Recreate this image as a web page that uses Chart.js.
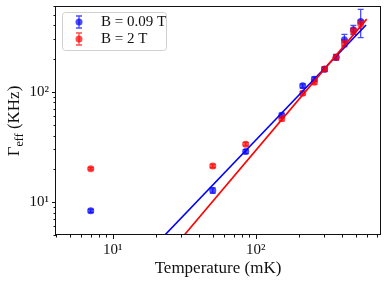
<!DOCTYPE html>
<html><head><meta charset="utf-8">
<script src="https://cdn.jsdelivr.net/npm/chart.js@4/dist/chart.umd.min.js"></script>
<style>html,body{margin:0;padding:0;background:#fff}#wrap{width:388px;height:285px}</style>
</head><body><div id="wrap"><canvas id="c" width="388" height="285"></canvas></div>
<script>
// ---- data ----
const temperatures = [7, 50, 85, 152, 213, 257, 303, 365, 417, 482, 542];
const gammaLowField = [8.3, 12.7, 28.6, 61, 113, 130, 160, 206, 296, 365, 435];
const gammaLowFieldErr = [0.3, 0.7, 1.2, 3, 5, 6, 8, 12, 35, 35, 125];
const gammaHighField = [20.0, 21.2, 33.4, 57, 97, 122, 161, 205, 276, 357, 411];
const gammaHighFieldErr = [0.5, 0.8, 1.2, 3, 4, 5, 7, 10, 20, 20, 35];
const fitLowFieldT = [23.2, 591];
const fitLowFieldG = [5.02, 403];
const fitHighFieldT = [31.7, 597];
const fitHighFieldG = [5.02, 456];
const seriesLabels = ['B = 0.09 T', 'B = 2 T'];
const xTickValues = [10, 100];
const xTickLabels = ['10\u00B9', '10\u00B2'];
const yTickValues = [10, 100];
const yTickLabels = ['10\u00B9', '10\u00B2'];
const xTitle = 'Temperature (mK)';
const yTitleMain = '\u0393';
const yTitleSub = 'eff';
const yTitleRest = ' (KHz)';

const X_MIN = 4, X_MAX = 740, Y_MIN = 5, Y_MAX = 600;
const SERIF = '"Liberation Serif", "DejaVu Serif", serif';
const BLUE = 'rgba(0,0,255,0.7)', RED = 'rgba(255,0,0,0.7)';

function minorTicks(min, max, majors) {
  const out = [];
  for (let d = 1; d <= 1000; d *= 10) {
    for (let m = 1; m <= 9; m++) {
      const v = m * d;
      if (v >= min && v <= max && !majors.includes(v)) out.push(v);
    }
  }
  return out;
}
const xMinor = minorTicks(X_MIN, X_MAX, xTickValues);
const yMinor = minorTicks(Y_MIN, Y_MAX, yTickValues);

function pts(xs, ys) { return xs.map((x, i) => ({x: x, y: ys[i]})); }

const errPlugin = {
  id: 'errbars',
  beforeDatasetsDraw(chart) {
    const ctx = chart.ctx, xs = chart.scales.x, ys = chart.scales.y, a = chart.chartArea;
    ctx.save();
    ctx.beginPath(); ctx.rect(a.left, a.top, a.right - a.left, a.bottom - a.top); ctx.clip();
    const sets = [[gammaLowField, gammaLowFieldErr, BLUE], [gammaHighField, gammaHighFieldErr, RED]];
    sets.forEach(([vals, errs, col]) => {
      ctx.strokeStyle = col; ctx.lineWidth = 1.3;
      temperatures.forEach((t, i) => {
        const px = xs.getPixelForValue(t);
        const y1 = ys.getPixelForValue(vals[i] + errs[i]);
        const y2 = ys.getPixelForValue(Math.max(vals[i] - errs[i], 1e-3));
        ctx.beginPath();
        ctx.moveTo(px, y1); ctx.lineTo(px, y2);
        ctx.moveTo(px - 3, y1); ctx.lineTo(px + 3, y1);
        ctx.moveTo(px - 3, y2); ctx.lineTo(px + 3, y2);
        ctx.stroke();
      });
    });
    ctx.restore();
  },
  afterDraw(chart) {
    const ctx = chart.ctx, xs = chart.scales.x, ys = chart.scales.y, a = chart.chartArea;
    ctx.save();
    // frame
    ctx.strokeStyle = '#111'; ctx.lineWidth = 1;
    ctx.strokeRect(Math.round(a.left) - 0.5, Math.round(a.top) + 0.5, Math.round(a.right - a.left) + 1, Math.round(a.bottom - a.top) - 1);
    // ticks
    ctx.beginPath();
    xTickValues.forEach(v => { const p = Math.round(xs.getPixelForValue(v)) + 0.5; ctx.moveTo(p, a.bottom); ctx.lineTo(p, a.bottom + 4); });
    xMinor.forEach(v => { const p = Math.round(xs.getPixelForValue(v)) + 0.5; ctx.moveTo(p, a.bottom); ctx.lineTo(p, a.bottom + 2.5); });
    yTickValues.forEach(v => { const p = Math.round(ys.getPixelForValue(v)) + 0.5; ctx.moveTo(a.left, p); ctx.lineTo(a.left - 4, p); });
    yMinor.forEach(v => { const p = Math.round(ys.getPixelForValue(v)) + 0.5; ctx.moveTo(a.left, p); ctx.lineTo(a.left - 2.5, p); });
    ctx.strokeStyle = '#111'; ctx.lineWidth = 1; ctx.stroke();
    // legend
    const lx = 62.5, ly = 12.5, lw = 104, lh = 38;
    ctx.beginPath(); ctx.roundRect(lx, ly, lw, lh, 3);
    ctx.fillStyle = 'rgba(255,255,255,0.8)'; ctx.fill();
    ctx.strokeStyle = '#d0d0d0'; ctx.lineWidth = 1; ctx.stroke();
    [[BLUE, 22], [RED, 39]].forEach(([col, cy], k) => {
      const cx = 79;
      ctx.strokeStyle = col; ctx.lineWidth = 1.3;
      ctx.beginPath();
      ctx.moveTo(cx, cy - 6); ctx.lineTo(cx, cy + 6);
      ctx.moveTo(cx - 3, cy - 6); ctx.lineTo(cx + 3, cy - 6);
      ctx.moveTo(cx - 3, cy + 6); ctx.lineTo(cx + 3, cy + 6);
      ctx.stroke();
      ctx.fillStyle = col; ctx.beginPath(); ctx.arc(cx, cy, 3.5, 0, Math.PI * 2); ctx.fill();
      ctx.fillStyle = '#111'; ctx.font = '15px ' + SERIF; ctx.textBaseline = 'middle'; ctx.textAlign = 'left';
      ctx.fillText(seriesLabels[k], 101, cy + 0.5);
    });
    // y title with subscript
    ctx.translate(19, 121); ctx.rotate(-Math.PI / 2);
    ctx.fillStyle = '#111'; ctx.textBaseline = 'alphabetic'; ctx.textAlign = 'left';
    ctx.font = '17px ' + SERIF; const w1 = ctx.measureText(yTitleMain).width, w3 = ctx.measureText(yTitleRest).width;
    ctx.font = '12px ' + SERIF; const w2 = ctx.measureText(yTitleSub).width;
    let x0 = -(w1 + w2 + w3) / 2;
    ctx.font = '17px ' + SERIF; ctx.fillText(yTitleMain, x0, 0);
    ctx.font = '12px ' + SERIF; ctx.fillText(yTitleSub, x0 + w1, 4);
    ctx.font = '17px ' + SERIF; ctx.fillText(yTitleRest, x0 + w1 + w2, 0);
    ctx.restore();
  }
};

function tickCb(values, labels) {
  return function (value) { const i = values.indexOf(value); return i >= 0 ? labels[i] : ''; };
}

new Chart(document.getElementById('c'), {
  type: 'scatter',
  data: {
    datasets: [
      { label: 'fit ' + seriesLabels[1], data: pts(fitHighFieldT, fitHighFieldG), showLine: true, borderColor: '#ff0000', borderWidth: 1.6, pointRadius: 0, order: 0 },
      { label: 'fit ' + seriesLabels[0], data: pts(fitLowFieldT, fitLowFieldG), showLine: true, borderColor: '#0000ff', borderWidth: 1.6, pointRadius: 0, order: 1 },
      { label: seriesLabels[1], data: pts(temperatures, gammaHighField), backgroundColor: RED, borderWidth: 0, pointRadius: 3.5, order: 2 },
      { label: seriesLabels[0], data: pts(temperatures, gammaLowField), backgroundColor: BLUE, borderWidth: 0, pointRadius: 3.5, order: 3 }
    ]
  },
  options: {
    responsive: false, animation: false, devicePixelRatio: 1,
    layout: { padding: { left: 0, top: 6, right: 8, bottom: 0 } },
    plugins: { legend: { display: false }, tooltip: { enabled: false } },
    scales: {
      x: {
        type: 'logarithmic', min: X_MIN, max: X_MAX,
        grid: { display: false, drawTicks: false }, border: { display: false },
        afterBuildTicks: s => { s.ticks = xTickValues.concat(xMinor).sort((a, b) => a - b).map(v => ({value: v})); },
        afterFit: s => { s.height = 50; s.paddingLeft = 0; s.paddingRight = 0; },
        ticks: { autoSkip: false, maxRotation: 0, minRotation: 0, padding: 6, color: '#111', font: { family: SERIF, size: 15 }, callback: tickCb(xTickValues, xTickLabels) },
        title: { display: true, text: xTitle, color: '#111', font: { family: SERIF, size: 17 }, padding: { top: 0, bottom: 6 } }
      },
      y: {
        type: 'logarithmic', min: Y_MIN, max: Y_MAX,
        grid: { display: false, drawTicks: false }, border: { display: false },
        afterBuildTicks: s => { s.ticks = yTickValues.concat(yMinor).sort((a, b) => a - b).map(v => ({value: v})); },
        afterFit: s => { s.width = 56; s.paddingTop = 0; s.paddingBottom = 0; },
        ticks: { autoSkip: false, padding: 7, color: '#111', font: { family: SERIF, size: 15 }, callback: tickCb(yTickValues, yTickLabels) }
      }
    }
  },
  plugins: [errPlugin]
});
</script></body></html>
